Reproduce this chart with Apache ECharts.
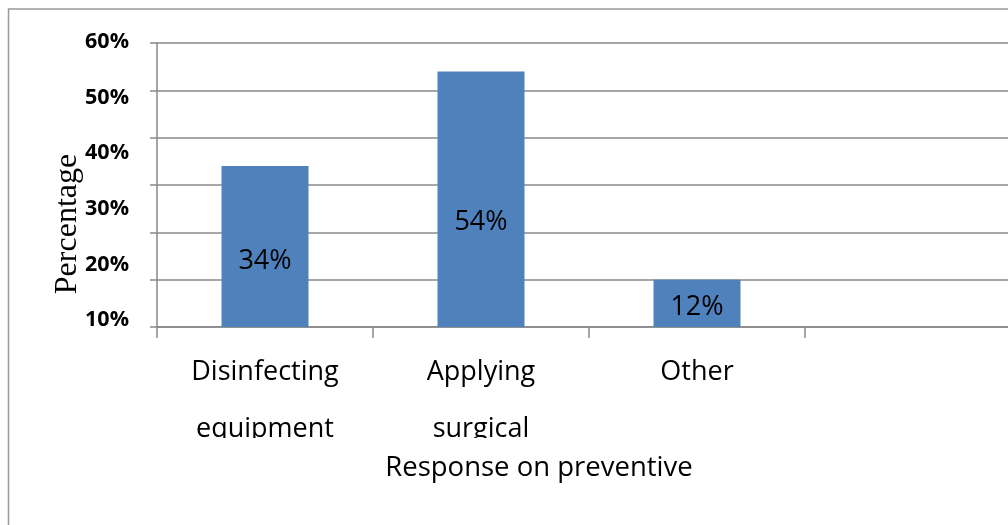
<!DOCTYPE html>
<html>
<head>
<meta charset="utf-8">
<script src="https://cdn.jsdelivr.net/npm/echarts@6/dist/echarts.min.js"></script>
<style>html,body{margin:0;padding:0;background:#fff}#c{width:1008px;height:525px}</style>
</head>
<body>
<div id="c"></div>
<script>
const categories = ['Disinfecting\nequipment', 'Applying\nsurgical', 'Other', ''];
const values = [34, 54, 10, null];
const valueLabels = ['34%', '54%', '12%', ''];
const tickLabels = [10, 20, 30, 40, 50, 60];
const yTitle = 'Percentage';
const xTitle = 'Response on preventive';

const chart = echarts.init(document.getElementById('c'), null, {renderer: 'canvas'});
const axisGray = '#898989';
const font = 'Open Sans';
chart.setOption({
  animation: false,
  grid: [
    {left: 157, top: 43, width: 864, bottom: 198, outerBoundsMode: 'none', containLabel: false},
    {left: 157, top: 42, width: 864, bottom: 205, outerBoundsMode: 'none', containLabel: false}
  ],
  xAxis: [
    {
      type: 'category', gridIndex: 0, data: categories,
      axisLine: {show: true, lineStyle: {color: axisGray, width: 1.5}},
      axisTick: {show: true, length: 11, lineStyle: {color: axisGray, width: 1.5}},
      axisLabel: {color: '#000', fontFamily: font, fontSize: 27, lineHeight: 57, margin: 17, interval: 0}
    },
    {type: 'category', gridIndex: 1, data: categories, show: false}
  ],
  yAxis: [
    {
      type: 'value', gridIndex: 0, min: 0, max: 60, interval: 10,
      axisLine: {show: true, lineStyle: {color: axisGray, width: 1.5}},
      axisTick: {show: true, length: 7, lineStyle: {color: axisGray, width: 1.5}},
      axisLabel: {show: false},
      splitLine: {show: true, lineStyle: {color: axisGray, width: 1.5}}
    },
    {
      type: 'value', gridIndex: 1, min: tickLabels[0], max: tickLabels[tickLabels.length - 1], interval: 10,
      axisLine: {show: false}, axisTick: {show: false}, splitLine: {show: false},
      axisLabel: {color: '#000', fontFamily: font, fontWeight: 'bold', fontSize: 21.5, margin: 28,
        formatter: v => v + '%'}
    }
  ],
  series: [{
    type: 'bar', xAxisIndex: 0, yAxisIndex: 0,
    data: values,
    barWidth: 87,
    itemStyle: {color: '#4F81BD'},
    label: {
      show: true, position: ['50%', '59%'], align: 'center', verticalAlign: 'middle',
      color: '#000', fontFamily: font, fontSize: 27,
      formatter: p => valueLabels[p.dataIndex]
    }
  }],
  graphic: [
    {type: 'rect', z: 100, shape: {x: 150, y: 438, width: 420, height: 18}, style: {fill: '#fff'}},
    {type: 'rect', z: 101, shape: {x: 8.5, y: 9, width: 1100, height: 600}, style: {fill: 'none', stroke: '#999', lineWidth: 1.5}},
    {type: 'text', z: 101, x: 68, y: 224, rotation: Math.PI / 2,
      style: {text: yTitle, font: '32px "Liberation Serif"', fill: '#000', textAlign: 'center', textVerticalAlign: 'middle'}},
    {type: 'text', z: 101, x: 539, y: 468,
      style: {text: xTitle, font: '27.5px "Open Sans"', fill: '#000', textAlign: 'center', textVerticalAlign: 'middle'}}
  ]
});
</script>
</body>
</html>
